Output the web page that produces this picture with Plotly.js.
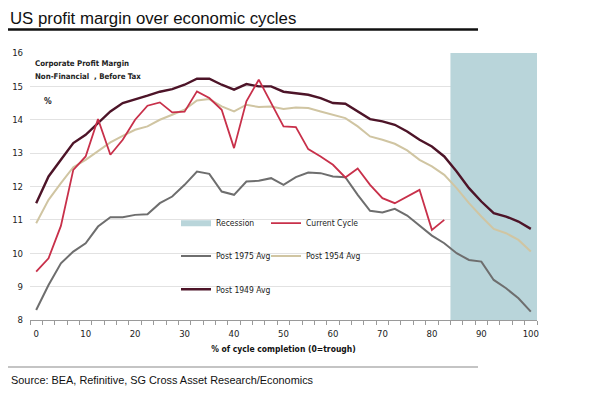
<!DOCTYPE html>
<html>
<head>
<meta charset="utf-8">
<script src="https://cdn.plot.ly/plotly-3.0.1.min.js"></script>
<style>html,body{margin:0;padding:0;background:#fff;}#chart{width:600px;height:393px;}</style>
</head>
<body>
<div id="chart"></div>
<script>
// x: % of cycle completion (0 = trough), every 2.5%
const cycleX = [0,2.5,5,7.5,10,12.5,15,17.5,20,22.5,25,27.5,30,32.5,35,37.5,40,42.5,45,47.5,50,52.5,55,57.5,60,62.5,65,67.5,70,72.5,75,77.5,80,82.5,85,87.5,90,92.5,95,97.5,100];
const post1949 = [11.5,12.3,12.8,13.3,13.55,13.9,14.25,14.5,14.6,14.72,14.84,14.92,15.05,15.23,15.23,15.05,14.9,15.07,15.0,15.0,14.84,14.8,14.75,14.65,14.5,14.48,14.25,14.02,13.95,13.85,13.65,13.4,13.2,12.9,12.45,11.95,11.55,11.2,11.1,10.95,10.73];
const post1954 = [10.9,11.6,12.1,12.58,12.8,13.05,13.32,13.52,13.7,13.8,14.0,14.15,14.3,14.58,14.62,14.4,14.25,14.45,14.38,14.4,14.32,14.37,14.35,14.25,14.15,14.05,13.8,13.5,13.4,13.28,13.08,12.8,12.6,12.35,11.95,11.5,11.1,10.73,10.6,10.4,10.05];
const post1975 = [8.3,9.05,9.7,10.05,10.3,10.8,11.08,11.08,11.15,11.17,11.5,11.7,12.05,12.45,12.38,11.85,11.75,12.15,12.17,12.25,12.05,12.28,12.42,12.4,12.3,12.28,11.75,11.27,11.22,11.33,11.13,10.83,10.53,10.3,10.0,9.8,9.75,9.2,8.95,8.65,8.25];
const currentX = [0,2.5,5,7.5,10,12.5,15,17.5,20,22.5,25,27.5,30,32.5,35,37.5,40,42.5,45,47.5,50,52.5,55,57.5,60,62.5,65,67.5,70,72.5,75,77.5,80,82.5];
const currentCycle = [9.45,9.85,10.82,12.5,12.9,14.02,12.95,13.4,14.0,14.42,14.52,14.22,14.24,14.85,14.65,14.3,13.15,14.55,15.2,14.5,13.8,13.78,13.12,12.9,12.65,12.27,12.54,12.05,11.65,11.5,11.7,11.9,10.7,11.0];
const recessionX = [83.75, 101.25];
const yRange = [8, 16];
const yTicks = [8,9,10,11,12,13,14,15,16];
const xTicks = [0,10,20,30,40,50,60,70,80,90,100];

const narrow = '"Liberation Sans Narrow", "DejaVu Sans Condensed", "DejaVu Sans", sans-serif';
const sans = '"Liberation Sans", Arial, Helvetica, sans-serif';

const traces = [
  {
    name: 'Recession', type: 'scatter', mode: 'none', fill: 'toself',
    x: [recessionX[0], recessionX[1], recessionX[1], recessionX[0], recessionX[0]],
    y: [yRange[0], yRange[0], yRange[1], yRange[1], yRange[0]],
    fillcolor: '#b9d5da', hoverinfo: 'skip', legend: 'legend'
  },
  {
    name: 'Post 1975 Avg', type: 'scatter', mode: 'lines', x: cycleX, y: post1975,
    line: {color: '#6e6e6e', width: 2}, legend: 'legend2'
  },
  {
    name: 'Post 1954 Avg', type: 'scatter', mode: 'lines', x: cycleX, y: post1954,
    line: {color: '#d0c5a2', width: 2}, legend: 'legend5'
  },
  {
    name: 'Post 1949 Avg', type: 'scatter', mode: 'lines', x: cycleX, y: post1949,
    line: {color: '#4d1428', width: 2.4}, legend: 'legend3'
  },
  {
    name: 'Current Cycle', type: 'scatter', mode: 'lines', x: currentX, y: currentCycle,
    line: {color: '#c8304a', width: 1.8}, legend: 'legend4'
  }
];

const P = (px) => (px - 30) / 507;          // pixel x -> paper x
const Q = (py) => (320 - py) / 266.6;       // pixel y -> paper y

function leg(xpx, ypx) {
  return {x: P(xpx), y: Q(ypx), xanchor: 'left', yanchor: 'middle',
          bgcolor: 'rgba(0,0,0,0)', borderwidth: 0,
          font: {family: narrow, size: 8.5, color: '#222', stretch: 'condensed'}, itemwidth: 30};
}

const layout = {
  width: 600, height: 393,
  paper_bgcolor: '#ffffff', plot_bgcolor: '#ffffff',
  margin: {l: 30, r: 63, t: 53.4, b: 73},
  showlegend: true,
  title: {
    text: 'US profit margin over economic cycles',
    x: 10 / 600, xref: 'container', xanchor: 'left',
    y: 1 - 18 / 393, yref: 'container', yanchor: 'middle',
    font: {family: sans, size: 16.8, color: '#111'}
  },
  xaxis: {
    range: [-1.25, 101.25], tickvals: xTicks, ticktext: xTicks.map(String),
    ticks: '', showgrid: false, zeroline: false,
    showline: true, linecolor: '#9a9a9a', linewidth: 1,
    minor: {ticks: 'outside', tick0: 1.25, dtick: 2.5, ticklen: 4, tickcolor: '#9a9a9a', showgrid: false},
    tickfont: {family: narrow, size: 9.5, color: '#222', stretch: 'condensed'},
    ticklabelstandoff: 5,
    title: {text: '<b>% of cycle completion (0=trough)</b>', font: {family: narrow, size: 8.5, color: '#111', stretch: 'condensed'}, standoff: 7}
  },
  yaxis: {
    range: yRange, tickvals: yTicks, ticks: '',
    showgrid: true, gridcolor: '#e2e2e2', gridwidth: 1,
    zeroline: false, showline: false,
    tickfont: {family: narrow, size: 9.5, color: '#222', stretch: 'condensed'},
    ticklabelstandoff: 6
  },
  legend: leg(176, 223.3),
  legend2: leg(176, 256),
  legend3: leg(176, 289.3),
  legend4: leg(266, 223.3),
  legend5: leg(266, 256),
  shapes: [
    {type: 'line', xref: 'paper', yref: 'paper', x0: P(8), x1: P(478), y0: Q(30), y1: Q(30),
     line: {color: '#111', width: 2.5}},
    {type: 'line', xref: 'paper', yref: 'paper', x0: P(8), x1: P(478), y0: Q(367), y1: Q(367),
     line: {color: '#c4c4c4', width: 2}}
  ],
  annotations: [
    {text: '<b>Corporate Profit Margin</b>', xref: 'paper', yref: 'paper', x: P(33), y: Q(64.3),
     xanchor: 'left', yanchor: 'middle', showarrow: false, font: {family: narrow, size: 7.8, color: '#222', stretch: 'condensed'}},
    {text: '<b>Non-Financial  , Before Tax</b>', xref: 'paper', yref: 'paper', x: P(33), y: Q(77.3),
     xanchor: 'left', yanchor: 'middle', showarrow: false, font: {family: narrow, size: 7.8, color: '#222', stretch: 'condensed'}},
    {text: '<b>%</b>', xref: 'paper', yref: 'paper', x: P(42), y: Q(101),
     xanchor: 'left', yanchor: 'middle', showarrow: false, font: {family: narrow, size: 8.5, color: '#222', stretch: 'condensed'}},
    {text: 'Source: BEA, Refinitive, SG Cross Asset Research/Economics', xref: 'paper', yref: 'paper',
     x: P(9), y: Q(379.5), xanchor: 'left', yanchor: 'middle', showarrow: false,
     font: {family: sans, size: 10.9, color: '#111'}}
  ]
};

Plotly.newPlot('chart', traces, layout, {displayModeBar: false, staticPlot: true});
</script>
</body>
</html>
